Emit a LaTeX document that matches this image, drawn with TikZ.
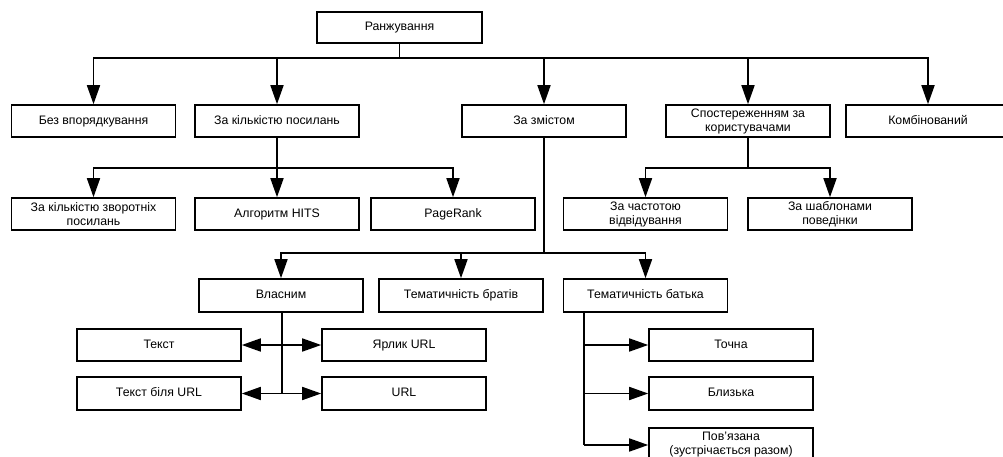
\documentclass[tikz,border=0pt]{standalone}
\usepackage{fontspec}
\setmainfont{Liberation Sans}
\usetikzlibrary{arrows.meta}
\begin{document}
\begin{tikzpicture}[x=1pt,y=-1pt,
  box/.style={draw=black,line width=1.6pt,fill=white,minimum width=164pt,minimum height=32pt,inner sep=1pt,align=center,font=\fontsize{12.3}{14}\selectfont},
  onebox/.style={box,text height=9pt,text depth=2.6pt},
  conn/.style={draw=black,line width=1.7pt},
  arr/.style={conn,-{Triangle[length=19pt,width=13pt]}}]
\useasboundingbox (0,0) rectangle (1003,457);
\clip (0,0) rectangle (1003,457);
\fill[white] (0,0) rectangle (1003,457);
% nodes
\node[onebox,minimum width=165pt,minimum height=31pt] (rank) at (399.5,27.5) {Ранжування};
\node[onebox] (bez) at (93.5,121) {Без впорядкування};
\node[onebox] (kilk) at (277,121) {За кількістю посилань};
\node[onebox] (zmist) at (544,121) {За змістом};
\node[box] (spost) at (748,121) {Спостереженням за\\користувачами};
\node[onebox] (komb) at (928,121) {Комбінований};
\node[box] (zvor) at (93.5,214) {За кількістю зворотніх\\посилань};
\node[onebox] (hits) at (277,214) {Алгоритм HITS};
\node[onebox] (pr) at (453,214) {PageRank};
\node[box] (chast) at (645.5,214) {За частотою\\відвідування};
\node[box] (shabl) at (830,214) {За шаблонами\\поведінки};
\node[onebox,minimum height=33pt] (vlas) at (281,295.5) {Власним};
\node[onebox,minimum height=33pt] (brat) at (461,295.5) {Тематичність братів};
\node[onebox,minimum height=33pt] (batk) at (645.5,295.5) {Тематичність батька};
\node[onebox] (tekst) at (159,345) {Текст};
\node[onebox] (yarl) at (404,345) {Ярлик URL};
\node[onebox,minimum height=33pt] (tbil) at (159,393.5) {Текст біля URL};
\node[onebox,minimum height=33pt] (url) at (404,393.5) {URL};
\node[onebox] (tochna) at (731,345) {Точна};
\node[onebox,minimum height=33pt] (blyz) at (731,393.5) {Близька};
\node[box,minimum height=34pt] (povyaz) at (731,445) {Пов’язана\\(зустрічається разом)};
% bus coordinates
\coordinate (b0) at (399.5,58);
\coordinate (k0) at (277,168);
\coordinate (s0) at (748,168);
\coordinate (z0) at (544,253);
\coordinate (v1) at (282,345);
\coordinate (v2) at (282,393.5);
\coordinate (t0) at (584,312);
% connectors
\draw[conn] (rank) -- (b0);
\draw[arr] (b0) -| (bez);
\draw[arr] (b0) -| (kilk);
\draw[arr] (b0) -| (zmist);
\draw[arr] (b0) -| (spost);
\draw[arr] (b0) -| (komb);
\draw[conn] (kilk) -- (k0);
\draw[arr] (k0) -| (zvor);
\draw[arr] (k0) -- (hits);
\draw[arr] (k0) -| (pr);
\draw[conn] (spost) -- (s0);
\draw[arr] (s0) -| (chast);
\draw[arr] (s0) -| (shabl);
\draw[conn] (zmist) -- (z0);
\draw[arr] (z0) -| (vlas);
\draw[arr] (z0) -| (brat);
\draw[arr] (z0) -| (batk);
\draw[conn] (vlas.south -| v1) -- (v2);
\draw[arr] (v1) -- (tekst);
\draw[arr] (v1) -- (yarl);
\draw[arr] (v2) -- (tbil);
\draw[arr] (v2) -- (url);
\draw[conn] (t0) -- (t0 |- povyaz);
\draw[arr] (t0 |- tochna) -- (tochna);
\draw[arr] (t0 |- blyz) -- (blyz);
\draw[arr] (t0 |- povyaz) -- (povyaz);
\end{tikzpicture}
\end{document}
